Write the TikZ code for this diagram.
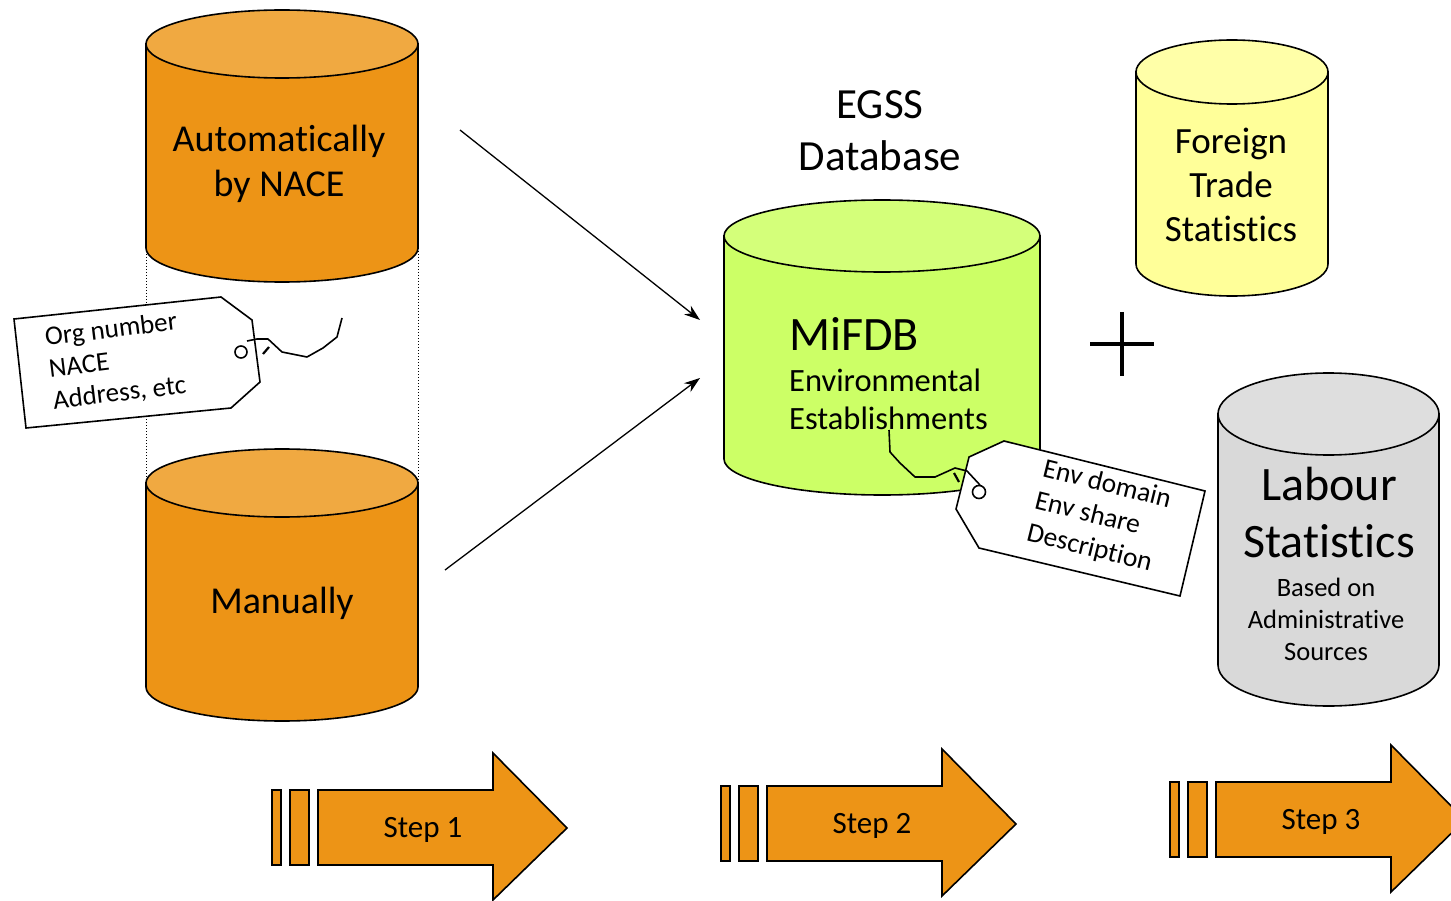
\documentclass[tikz,border=0pt]{standalone}
\usepackage{fontspec}
\setmainfont[RawFeature=-liga]{Carlito}
\usetikzlibrary{arrows.meta}
\definecolor{orbody}{RGB}{237,148,22}
\definecolor{ortop}{RGB}{240,169,65}
\definecolor{grbody}{RGB}{204,255,102}
\definecolor{grtop}{RGB}{212,255,122}
\definecolor{yebody}{RGB}{255,255,153}
\definecolor{yetop}{RGB}{255,255,168}
\definecolor{gybody}{RGB}{217,217,217}
\definecolor{gytop}{RGB}{222,222,222}
\newcommand{\mycyl}[7]{% x1 x2 ytop ybot ry bodycolor topcolor
  \pgfmathsetmacro{\rxx}{(#2-#1)/2}
  \pgfmathsetmacro{\xcc}{(#1+#2)/2}
  \filldraw[fill=#6,line width=1.6pt] (#1,#3) -- (#1,#4) arc[start angle=180,end angle=360,x radius=\rxx pt,y radius=#5 pt] -- (#2,#3) -- cycle;
  \filldraw[fill=#7,line width=1.6pt] (\xcc,#3) ellipse[x radius=\rxx pt,y radius=#5 pt];
}
\tikzset{
  lbl/.style={inner sep=0pt,align=center,text=black},
  tagshape/.style={fill=white,draw=black,line width=1.6pt,line join=miter},
  str/.style={draw=black,line width=1.6pt,line join=round},
  steparrow/.style={fill=orbody,draw=black,line width=1.6pt},
  flow/.style={draw=black,line width=1.3pt,-{Stealth[length=16pt,width=11pt]}}
}
\begin{document}
\begin{tikzpicture}[x=1pt,y=-1pt]
\useasboundingbox (0,0) rectangle (1451,901);
% dotted guide lines
\draw[dotted,line width=1pt] (146,248) -- (146,484);
\draw[dotted,line width=1pt] (418,248) -- (418,484);
% cylinders
\mycyl{146}{418}{44}{248}{34}{orbody}{ortop}
\mycyl{146}{418}{483}{687}{34}{orbody}{ortop}
\mycyl{724}{1040}{236}{459}{36}{grbody}{grtop}
\mycyl{1136}{1328}{72}{264}{32}{yebody}{yetop}
\mycyl{1218}{1439}{414}{665}{41}{gybody}{gytop}
% texts on cylinders
\node[lbl,font=\fontsize{38}{45}\selectfont] (auto) at (279,164) {Automatically\\by NACE};
\node[lbl,font=\fontsize{38}{45}\selectfont] (manual) at (282,603) {Manually};
\node[lbl,font=\fontsize{43}{52}\selectfont] (egss) at (880,131) {EGSS\\Database};
\node[lbl,anchor=west,font=\fontsize{48}{50}\selectfont] (mifdb) at (789,334) {MiFDB};
\node[lbl,anchor=west,align=left,font=\fontsize{32.5}{38}\selectfont] (env) at (789,399) {Environmental\\Establishments};
\node[lbl,font=\fontsize{37}{44}\selectfont] (ft) at (1231,185) {Foreign\\Trade\\Statistics};
\node[lbl,font=\fontsize{48}{57}\selectfont] (lab) at (1329,513) {Labour\\Statistics};
\node[lbl,font=\fontsize{26.5}{32}\selectfont] (based) at (1326,619) {Based on\\Administrative\\Sources};
% plus sign
\coordinate (pl) at (1090,344); \coordinate (pr) at (1154,344);
\coordinate (pt) at (1122,312); \coordinate (pb) at (1122,376);
\draw[line width=4pt] (pl) -- (pr);
\draw[line width=4pt] (pt) -- (pb);
% flow arrows
\coordinate (a1s) at (460,130); \coordinate (a1e) at (700,320);
\coordinate (a2s) at (445,570); \coordinate (a2e) at (700,378);
\draw[flow] (a1s) -- (a1e);
\draw[flow] (a2s) -- (a2e);
% left tag
\filldraw[tagshape] (14,319) -- (221,297) -- (252,320) -- (260,382) -- (231,408) -- (26,428) -- cycle;
\draw[line width=1.6pt] (241,352) circle[radius=6pt];
\draw[str] (247,341) -- (257,339) -- (268,339) -- (282,352) -- (307,357) -- (323,348) -- (337,337) -- (342,318);
\draw[line width=2.2pt] (263,354) -- (269,347);
\node[lbl,anchor=west,align=left,rotate=7,font=\fontsize{27}{32}\selectfont] (tag1) at (49,370) {Org number\\NACE\\Address, etc};
% right tag
\filldraw[tagshape] (1004,441) -- (1205,491) -- (1180,596) -- (979,548) -- (956,509) -- (969,457) -- cycle;
\draw[line width=1.6pt] (979,492) circle[radius=6.5pt];
\draw[str] (889,430) -- (890,452) -- (900,463) -- (915,477) -- (935,477) -- (955,468) -- (967,471) -- (980,485);
\draw[line width=2.2pt] (954,473) -- (959,482);
\node[lbl,align=left,rotate=-14,font=\fontsize{27.5}{33}\selectfont] (tag2) at (1099,517) {Env domain\\Env share\\Description};
% step arrows
\begin{scope}
\clip (0,0) rectangle (1451,901);
\foreach \dx/\dy/\n in {0/0/1,449/-4/2,898/-8/3}{
  \begin{scope}[shift={(\dx,\dy)}]
  \filldraw[steparrow] (272,790) rectangle (281,865);
  \filldraw[steparrow] (290,790) rectangle (309,865);
  \filldraw[steparrow] (318,790) -- (493,790) -- (493,753) -- (567,828) -- (493,900) -- (493,865) -- (318,865) -- cycle;
  \node[lbl,font=\fontsize{31}{34}\selectfont] (step\n) at (423,830) {Step \n};
  \end{scope}
}
\end{scope}
\end{tikzpicture}
\end{document}
